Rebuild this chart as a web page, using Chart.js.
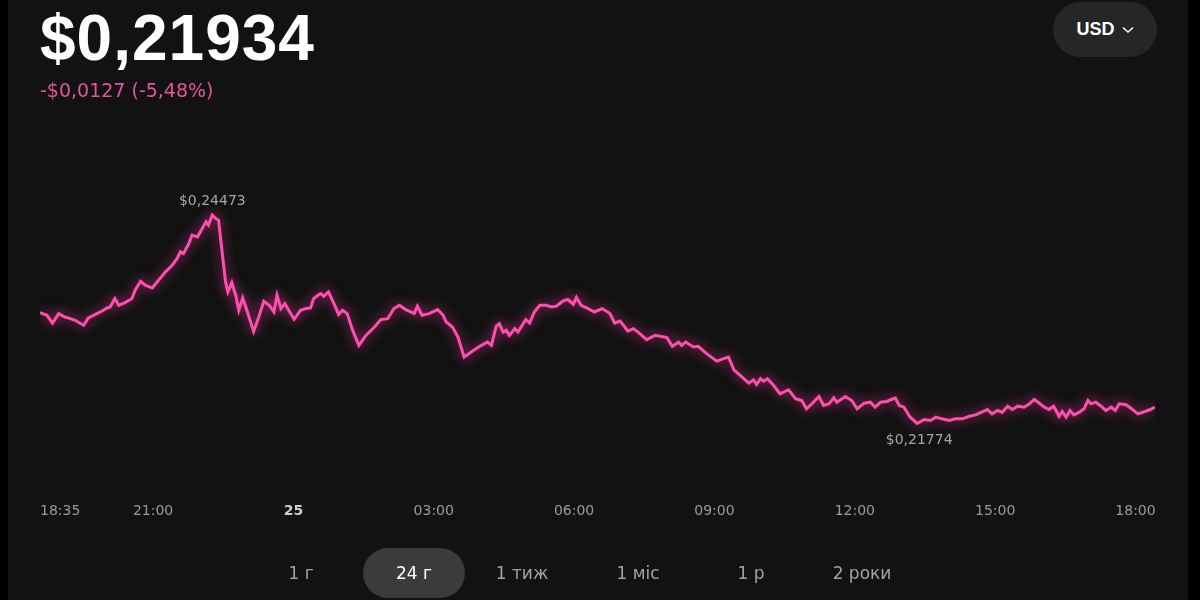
<!DOCTYPE html>
<html lang="uk">
<head>
<meta charset="UTF-8">
<title>Ціна за 24 г</title>
<style>
    body {
        margin: 0;
        background: #000;
        width: 1200px;
        height: 600px;
        overflow: hidden;
        position: relative;
        font-family: "DejaVu Sans", sans-serif;
    }
    .frame {
        position: absolute;
        left: 8px;
        top: 0;
        width: 1180px;
        height: 600px;
        background: #121212;
    }
    #priceChart {
        position: absolute;
        left: 0;
        top: 0;
    }
    .price {
        position: absolute;
        left: 40px;
        top: 6px;
        margin: 0;
        font: bold 64px "Liberation Sans", Arial, sans-serif;
        letter-spacing: 1px;
        line-height: 1;
        color: #fff;
    }
    .change {
        position: absolute;
        left: 40px;
        top: 81px;
        font-size: 19px;
        line-height: 1;
        color: #e3559e;
    }
    .currency {
        position: absolute;
        left: 1053px;
        top: 2px;
        width: 104px;
        height: 55px;
        border-radius: 28px;
        background: #262626;
        color: #fff;
        display: flex;
        align-items: center;
        justify-content: center;
        font: bold 18px "Liberation Sans", Arial, sans-serif;
    }
    .currency svg {
        margin-left: 7px;
    }
    .period {
        position: absolute;
        top: 548px;
        width: 102px;
        height: 50px;
        border-radius: 25px;
        display: flex;
        align-items: center;
        justify-content: center;
        font-size: 17px;
        color: #a3a3a3;
    }
    .period.active {
        background: #3b3b3b;
        color: #fff;
    }
</style>
</head>
<body>
<div class="frame"></div>
<canvas id="priceChart" width="1200" height="600"></canvas>

<h1 class="price">$0,21934</h1>
<div class="change">-$0,0127 (-5,48%)</div>
<div class="currency">USD
    <svg width="12" height="8" viewBox="0 0 12 8"><polyline points="1,1.5 6,6 11,1.5" fill="none" stroke="#fff" stroke-width="1.6"/></svg>
</div>

<div class="period" style="left:250px">1 г</div>
<div class="period active" style="left:363px">24 г</div>
<div class="period" style="left:471px">1 тиж</div>
<div class="period" style="left:587px">1 міс</div>
<div class="period" style="left:700px">1 р</div>
<div class="period" style="left:811px">2 роки</div>

<script src="https://cdn.jsdelivr.net/npm/chart.js"></script>
<script>
    // час у хвилинах від початку 24-го (18:35 = 1115, далі вже 25-те)
    const times = [
        1115, 1124, 1131, 1139, 1147, 1154, 1160, 1171, 1177, 1188,
        1194, 1201, 1205, 1211, 1216, 1224, 1233, 1237, 1244, 1250,
        1259, 1267, 1276, 1284, 1291, 1295, 1299, 1306, 1310, 1317,
        1323, 1328, 1331, 1336, 1340, 1344, 1349, 1353, 1356, 1361,
        1366, 1370, 1375, 1381, 1389, 1395, 1402, 1409, 1415, 1419,
        1424, 1429, 1434, 1441, 1449, 1456, 1462, 1466, 1473,
        1475, 1479, 1485, 1492, 1498, 1503, 1509, 1516, 1524, 1533,
        1544, 1552, 1561, 1569, 1576, 1584, 1595, 1599, 1605, 1614,
        1625, 1632, 1636, 1644, 1651, 1659, 1668, 1679, 1685, 1689,
        1694, 1700, 1704, 1709, 1713, 1717, 1724, 1728, 1732, 1738,
        1743, 1749, 1756, 1764, 1771, 1777, 1786, 1792, 1799, 1803,
        1809, 1818, 1826,
        1836, 1846, 1852, 1859, 1869, 1876, 1882, 1893, 1904, 1919,
        1926, 1934, 1938, 1943, 1953, 1959, 1970, 1983, 1992, 1998,
        2005, 2013, 2024, 2030, 2034, 2039, 2043, 2048, 2056, 2064,
        2075, 2084, 2092, 2098, 2105, 2114, 2120, 2127, 2133, 2137,
        2148, 2156, 2163, 2172, 2180, 2186, 2193,
        2201, 2207, 2212, 2217, 2223, 2231, 2240, 2249, 2257, 2264,
        2272, 2281, 2289, 2298, 2307, 2315, 2324, 2330, 2336, 2343,
        2349, 2356, 2362, 2369, 2377, 2384, 2390, 2396, 2403, 2409,
        2415, 2422, 2426, 2431, 2436, 2441, 2448, 2454, 2459, 2463,
        2469, 2476, 2482, 2489, 2494, 2499, 2508, 2514, 2523, 2532,
        2539, 2545
    ];

    // ціна, USD
    const prices = [
        0.23210, 0.23175, 0.23075, 0.23197, 0.23153, 0.23132, 0.23110, 0.23045, 0.23140, 0.23197,
        0.23227, 0.23270, 0.23283, 0.23392, 0.23305, 0.23340, 0.23392, 0.23499, 0.23616, 0.23564,
        0.23529, 0.23629, 0.23737, 0.23815, 0.23911, 0.23997, 0.23976, 0.24106, 0.24213, 0.24191,
        0.24300, 0.24386, 0.24343, 0.24473, 0.24430, 0.24408, 0.23954, 0.23607, 0.23477, 0.23599,
        0.23435, 0.23240, 0.23400, 0.23218, 0.22967, 0.23132, 0.23357, 0.23305, 0.23218, 0.23435,
        0.23262, 0.23327, 0.23240, 0.23123, 0.23240, 0.23262, 0.23270, 0.23392, 0.23444,
        0.23457, 0.23422, 0.23477, 0.23327, 0.23184, 0.23240, 0.23197, 0.22980, 0.22786, 0.22915,
        0.23023, 0.23119, 0.23132, 0.23262, 0.23305, 0.23249, 0.23197, 0.23292, 0.23175, 0.23197,
        0.23249, 0.23175, 0.23088, 0.23023, 0.22893, 0.22634, 0.22699, 0.22773, 0.22808, 0.22828,
        0.22786, 0.23032, 0.23067, 0.22958, 0.22980, 0.22915, 0.23002, 0.22958, 0.23023, 0.23119,
        0.23075, 0.23218, 0.23305, 0.23305, 0.23283, 0.23292, 0.23361, 0.23379, 0.23318, 0.23405,
        0.23305, 0.23262, 0.23218,
        0.23262, 0.23197, 0.23075, 0.23101, 0.22971, 0.23002, 0.22958, 0.22860, 0.22915, 0.22886,
        0.22773, 0.22828, 0.22786, 0.22828, 0.22764, 0.22773, 0.22678, 0.22582, 0.22613, 0.22634,
        0.22470, 0.22396, 0.22296, 0.22340, 0.22279, 0.22353, 0.22322, 0.22353, 0.22266, 0.22159,
        0.22211, 0.22094, 0.22072, 0.21964, 0.22029, 0.22124, 0.22007, 0.22029, 0.22107, 0.22050,
        0.22124, 0.22072, 0.21964, 0.22037, 0.22050, 0.21985, 0.22050,
        0.22059, 0.22085, 0.22102, 0.22007, 0.21985, 0.21855, 0.21774, 0.21825, 0.21812, 0.21855,
        0.21834, 0.21812, 0.21834, 0.21834, 0.21868, 0.21886, 0.21929, 0.21955, 0.21899, 0.21942,
        0.21920, 0.21998, 0.21955, 0.21998, 0.21985, 0.22029, 0.22085, 0.22042, 0.21985, 0.21955,
        0.21998, 0.21868, 0.21929, 0.21855, 0.21942, 0.21886, 0.21920, 0.21964, 0.22072, 0.22029,
        0.22050, 0.21998, 0.21942, 0.21985, 0.21942, 0.22029, 0.22016, 0.21972, 0.21899, 0.21929,
        0.21955, 0.21985
    ];

    // підписи осі X (останній порожній — лише щоб перший вирівнявся ліворуч)
    const tickValues = [1115, 1260, 1440, 1620, 1800, 1980, 2160, 2340, 2520, 2545];
    const tickLabels = ['18:35', '21:00', '25', '03:00', '06:00', '09:00', '12:00', '15:00', '18:00', ''];
    const dayTick = 1440;

    const fmt = v => '$' + v.toFixed(5).replace('.', ',');

    // світіння лінії
    const glowPlugin = {
        id: 'glow',
        beforeDatasetsDraw(chart) {
            const c = chart.ctx;
            c.save();
            c.shadowColor = 'rgba(255, 60, 165, 0.8)';
            c.shadowBlur = 12;
        },
        afterDatasetsDraw(chart) {
            chart.ctx.restore();
        }
    };

    // підписи максимуму та мінімуму
    const extremesPlugin = {
        id: 'extremes',
        afterDatasetsDraw(chart) {
            const c = chart.ctx;
            const xs = chart.scales.x, ys = chart.scales.y;
            let hi = 0, lo = 0;
            prices.forEach((p, i) => {
                if (p > prices[hi]) hi = i;
                if (p < prices[lo]) lo = i;
            });
            c.save();
            c.font = '14px "DejaVu Sans"';
            c.fillStyle = '#a6a6a6';
            c.textAlign = 'center';
            c.textBaseline = 'middle';
            c.fillText(fmt(prices[hi]), xs.getPixelForValue(times[hi]), ys.getPixelForValue(prices[hi]) - 14);
            c.fillText(fmt(prices[lo]), xs.getPixelForValue(times[lo]) + 2, ys.getPixelForValue(prices[lo]) + 17);
            c.restore();
        }
    };

    const ctx = document.getElementById('priceChart').getContext('2d');

    new Chart(ctx, {
        type: 'line',
        data: {
            datasets: [{
                data: times.map((t, i) => ({ x: t, y: prices[i] })),
                borderColor: '#ff4fae',
                borderWidth: 3,
                pointRadius: 0,
                tension: 0,
                fill: false
            }]
        },
        options: {
            responsive: false,
            animation: false,
            layout: {
                padding: { left: 40, right: 45, top: 200, bottom: 72 }
            },
            plugins: {
                legend: { display: false },
                tooltip: { enabled: false }
            },
            scales: {
                x: {
                    type: 'linear',
                    min: 1115,
                    max: 2545,
                    grid: { display: false },
                    border: { display: false },
                    afterBuildTicks: scale => {
                        scale.ticks = tickValues.map(v => ({ value: v }));
                    },
                    ticks: {
                        autoSkip: false,
                        maxRotation: 0,
                        align: 'inner',
                        padding: 8,
                        callback: value => tickLabels[tickValues.indexOf(value)],
                        color: c => (c.tick && c.tick.value === dayTick) ? '#cfcfcf' : '#9b9b9b',
                        font: c => ({
                            family: 'DejaVu Sans',
                            size: 14,
                            weight: (c.tick && c.tick.value === dayTick) ? 'bold' : 'normal'
                        })
                    }
                },
                y: {
                    display: false,
                    min: 0.20949,
                    max: 0.24668
                }
            }
        },
        plugins: [glowPlugin, extremesPlugin]
    });
</script>
</body>
</html>
